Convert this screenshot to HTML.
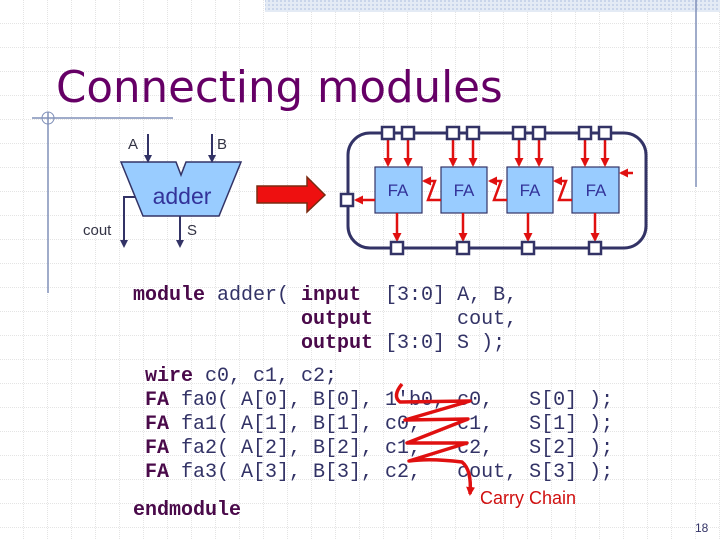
<!DOCTYPE html>
<html><head><meta charset="utf-8"><style>
body{margin:0;width:720px;height:540px;overflow:hidden;background:#fff;}
svg{display:block}
.code text{white-space:pre}
.k{font-weight:bold;fill:#4a0a4a}
</style></head><body>
<svg width="720" height="540" xmlns="http://www.w3.org/2000/svg">
<defs>
<pattern id="g" width="24" height="24" patternUnits="userSpaceOnUse">
<path d="M24 0V24M0 24H24" stroke="#c8c8c8" stroke-width="1" stroke-dasharray="1,1" fill="none"/>
</pattern>
<pattern id="h" width="4" height="4" patternUnits="userSpaceOnUse">
<rect width="4" height="4" fill="#e4ebf5"/><rect width="2" height="2" fill="#c9d5ea"/>
</pattern>
<marker id="an" markerWidth="8" markerHeight="8" refX="6" refY="4" orient="auto" markerUnits="userSpaceOnUse"><path d="M0,0 L8,4 L0,8z" fill="#333366"/></marker>
<marker id="ar" markerWidth="9" markerHeight="9" refX="7" refY="4.5" orient="auto" markerUnits="userSpaceOnUse"><path d="M0,0 L9,4.5 L0,9z" fill="#e01010"/></marker>
</defs>
<rect width="720" height="540" fill="url(#g)"/>
<rect x="265" y="0" width="455" height="12" fill="url(#h)"/>
<line x1="696" y1="0" x2="696" y2="187" stroke="#8090b8" stroke-width="1.5"/>
<line x1="32" y1="118" x2="173" y2="118" stroke="#8090b8" stroke-width="1.5"/>
<line x1="48" y1="112" x2="48" y2="293" stroke="#8090b8" stroke-width="1.5"/>
<circle cx="48" cy="118" r="6" fill="none" stroke="#8090b8" stroke-width="1"/>
<text x="56" y="102" font-family="DejaVu Sans, sans-serif" font-size="43.5" fill="#660066">Connecting modules</text>

<polygon points="121,162 176,162 181,175 186,162 241,162 219,216 143,216" fill="#99ccff" stroke="#333366" stroke-width="1.5"/>
<text x="182" y="204" text-anchor="middle" font-family="Liberation Sans, sans-serif" font-size="23" fill="#333399">adder</text>
<line x1="148" y1="134" x2="148" y2="161" stroke="#333366" stroke-width="2" marker-end="url(#an)"/>
<line x1="212" y1="134" x2="212" y2="161" stroke="#333366" stroke-width="2" marker-end="url(#an)"/>
<polyline points="135,197 124,197 124,246" fill="none" stroke="#333366" stroke-width="2" marker-end="url(#an)"/>
<line x1="180" y1="216" x2="180" y2="246" stroke="#333366" stroke-width="2" marker-end="url(#an)"/>
<g font-family="Liberation Sans, sans-serif" font-size="15" fill="#333344">
<text x="128" y="149">A</text><text x="217" y="149">B</text>
<text x="83" y="235">cout</text><text x="187" y="235">S</text></g>
<polygon points="257,186 307,186 307,177 325,195 307,212 307,203 257,203" fill="#ee1010" stroke="#7a2a10" stroke-width="1.5"/>

<rect x="348" y="133" width="298" height="115" rx="22" fill="none" stroke="#333366" stroke-width="3"/>
<g fill="#99ccff" stroke="#333366" stroke-width="1.2">
<rect x="375" y="167" width="47" height="46"/><rect x="441" y="167" width="46" height="46"/>
<rect x="507" y="167" width="46" height="46"/><rect x="572" y="167" width="47" height="46"/></g>
<g font-family="Liberation Sans, sans-serif" font-size="17" fill="#333399" text-anchor="middle">
<text x="398" y="196">FA</text><text x="464" y="196">FA</text><text x="530" y="196">FA</text><text x="596" y="196">FA</text></g>
<g stroke="#e01010" stroke-width="2.5" fill="none">
<line x1="388" y1="140" x2="388" y2="165" marker-end="url(#ar)"/><line x1="408" y1="140" x2="408" y2="165" marker-end="url(#ar)"/>
<line x1="453" y1="140" x2="453" y2="165" marker-end="url(#ar)"/><line x1="473" y1="140" x2="473" y2="165" marker-end="url(#ar)"/>
<line x1="519" y1="140" x2="519" y2="165" marker-end="url(#ar)"/><line x1="539" y1="140" x2="539" y2="165" marker-end="url(#ar)"/>
<line x1="585" y1="140" x2="585" y2="165" marker-end="url(#ar)"/><line x1="605" y1="140" x2="605" y2="165" marker-end="url(#ar)"/>
<line x1="397" y1="213" x2="397" y2="240" marker-end="url(#ar)"/><line x1="463" y1="213" x2="463" y2="240" marker-end="url(#ar)"/>
<line x1="528" y1="213" x2="528" y2="240" marker-end="url(#ar)"/><line x1="595" y1="213" x2="595" y2="240" marker-end="url(#ar)"/>
<line x1="375" y1="200" x2="356" y2="200" marker-end="url(#ar)"/>
<line x1="633" y1="173" x2="621" y2="173" marker-end="url(#ar)"/>
<polyline points="441,200 428,200 435,181 424,181" marker-end="url(#ar)"/>
<polyline points="507,200 494,200 501,181 490,181" marker-end="url(#ar)"/>
<polyline points="572,200 559,200 566,181 555,181" marker-end="url(#ar)"/>
</g>
<g fill="#fff" stroke="#333366" stroke-width="2.5">
<rect x="382" y="127" width="12" height="12"/><rect x="402" y="127" width="12" height="12"/>
<rect x="447" y="127" width="12" height="12"/><rect x="467" y="127" width="12" height="12"/>
<rect x="513" y="127" width="12" height="12"/><rect x="533" y="127" width="12" height="12"/>
<rect x="579" y="127" width="12" height="12"/><rect x="599" y="127" width="12" height="12"/>
<rect x="391" y="242" width="12" height="12"/><rect x="457" y="242" width="12" height="12"/>
<rect x="522" y="242" width="12" height="12"/><rect x="589" y="242" width="12" height="12"/>
<rect x="341" y="194" width="12" height="12"/></g>

<g class="code" font-family="Liberation Mono, monospace" font-size="20" fill="#333366">
<text x="133" y="300"><tspan class="k">module</tspan> adder( <tspan class="k">input</tspan>  [3:0] A, B,</text>
<text x="133" y="324">              <tspan class="k">output</tspan>       cout,</text>
<text x="133" y="348">              <tspan class="k">output</tspan> [3:0] S );</text>
<text x="145" y="381"><tspan class="k">wire</tspan> c0, c1, c2;</text>
<text x="145" y="405"><tspan class="k">FA</tspan> fa0( A[0], B[0], 1'b0, c0,   S[0] );</text>
<text x="145" y="429"><tspan class="k">FA</tspan> fa1( A[1], B[1], c0,   c1,   S[1] );</text>
<text x="145" y="453"><tspan class="k">FA</tspan> fa2( A[2], B[2], c1,   c2,   S[2] );</text>
<text x="145" y="477"><tspan class="k">FA</tspan> fa3( A[3], B[3], c2,   cout, S[3] );</text>
<text x="133" y="515"><tspan class="k">endmodule</tspan></text>
</g>
<path d="M402,384 Q392,396 400,402 L470,401 L405,420 L468,419 L407,443 L467,443 L409,461 Q430,458 462,462 Q472,470 470,494" fill="none" stroke="#e01010" stroke-width="3.5" stroke-linejoin="round" marker-end="url(#ar)"/>
<text x="480" y="504" font-family="Liberation Sans, sans-serif" font-size="18" fill="#d01010">Carry Chain</text>
<text x="695" y="532" font-family="Liberation Sans, sans-serif" font-size="12" fill="#333366">18</text>
</svg>
</body></html>
